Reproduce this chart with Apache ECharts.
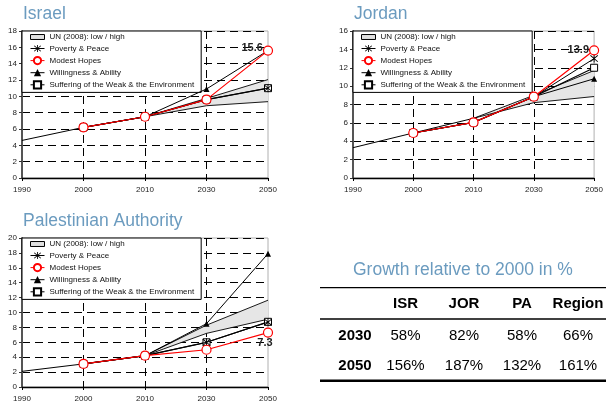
<!DOCTYPE html>
<html>
<head>
<meta charset="utf-8">
<script src="https://cdn.jsdelivr.net/npm/echarts@6/dist/echarts.min.js"></script>
<style>
html,body{margin:0;padding:0;background:#fff;}
#main{width:606px;height:403px;}
</style>
</head>
<body>
<div id="main"></div>
<script>
// ---------- data ----------
const years = ['1990', '2000', '2010', '2030', '2050'];
const legendNames = ['UN (2008): low / high', 'Poverty & Peace', 'Modest Hopes', 'Willingness & Ability', 'Suffering of the Weak & the Environment'];

// Israel
const isrHistory = [4.6, 6.2, 7.5, null, null];
const isrUnLow = [null, null, 7.5, 8.85, 9.35];
const isrUnHigh = [null, null, 7.5, 9.75, 12.05];
const isrPovertyPeace = [null, 6.2, 7.5, 9.6, 11.0];
const isrModestHopes = [null, 6.2, 7.5, 9.6, 15.6];
const isrWillingness = [null, 6.2, 7.5, 10.9, 15.6];
const isrSuffering = [null, 6.2, 7.5, 9.6, 11.0];

// Jordan
const jorHistory = [3.3, 4.9, 6.5, null, null];
const jorUnLow = [null, null, 6.5, 8.2, 8.87];
const jorUnHigh = [null, null, 6.5, 9.0, 11.7];
const jorPovertyPeace = [null, 4.9, 6.05, 8.85, 13.0];
const jorModestHopes = [null, 4.9, 6.05, 8.85, 13.9];
const jorWillingness = [null, 4.9, 6.05, 8.85, 10.8];
const jorSuffering = [null, 4.9, 6.05, 8.85, 12.0];

// Palestinian Authority
const paHistory = [2.1, 3.1, 4.2, null, null];
const paUnLow = [null, null, 4.2, 7.2, 9.1];
const paUnHigh = [null, null, 4.2, 8.3, 11.65];
const paPovertyPeace = [null, 3.1, 4.2, 6.0, 8.7];
const paModestHopes = [null, 3.1, 4.2, 5.0, 7.3];
const paWillingness = [null, 3.1, 4.2, 8.5, 17.9];
const paSuffering = [null, 3.1, 4.2, 6.0, 8.75];

// Table
const tableTitle = 'Growth relative to 2000 in %';
const tableColumns = ['ISR', 'JOR', 'PA', 'Region'];
const tableRowLabels = ['2030', '2050'];
const growth2030 = ['58%', '82%', '58%', '66%'];
const growth2050 = ['156%', '187%', '132%', '161%'];

// ---------- styles / layout ----------
const FONT = '"Liberation Sans", Arial, Helvetica, sans-serif';
const TITLE_COLOR = '#6b9bbf';
const STAR = 'path://M9,0 L11,0 L11,20 L9,20 Z M1.4,2.8 L2.8,1.4 L18.6,17.2 L17.2,18.6 Z M17.2,1.4 L18.6,2.8 L2.8,18.6 L1.4,17.2 Z';

const panels = [
  { title: 'Israel', titleLeft: 23, titleTop: 5, grid: { left: 22, top: 31, width: 246, height: 147 }, max: 18,
    hist: isrHistory, low: isrUnLow, high: isrUnHigh, pp: isrPovertyPeace, mh: isrModestHopes, wa: isrWillingness, sw: isrSuffering,
    label: { position: 'left', distance: 0, offset: [0, -3] } },
  { title: 'Jordan', titleLeft: 354, titleTop: 5, grid: { left: 353, top: 31, width: 247, height: 147 }, max: 16,
    hist: jorHistory, low: jorUnLow, high: jorUnHigh, pp: jorPovertyPeace, mh: jorModestHopes, wa: jorWillingness, sw: jorSuffering,
    label: { position: 'left', distance: 0, offset: [0, 0] } },
  { title: 'Palestinian Authority', titleLeft: 23, titleTop: 212, grid: { left: 22, top: 238, width: 246, height: 149 }, max: 20,
    hist: paHistory, low: paUnLow, high: paUnHigh, pp: paPovertyPeace, mh: paModestHopes, wa: paWillingness, sw: paSuffering,
    label: { position: 'bottom', distance: 0, offset: [-3, 0] } }
];

const option = {
  animation: false,
  textStyle: { fontFamily: FONT },
  title: [], grid: [], xAxis: [], yAxis: [], legend: [], series: [], graphic: []
};

panels.forEach((p, gi) => {
  option.title.push({
    text: p.title, left: p.titleLeft, top: p.titleTop, padding: 0,
    textStyle: { color: TITLE_COLOR, fontSize: 17.5, fontWeight: 'normal', fontFamily: FONT }
  });
  option.grid.push(Object.assign({ show: true, borderColor: '#b0b0b0', borderWidth: 1, backgroundColor: 'transparent' }, p.grid));
  option.xAxis.push({
    type: 'category', gridIndex: gi, data: years, boundaryGap: false,
    axisLine: { lineStyle: { color: '#000', width: 1.3 } },
    axisTick: { show: true, length: 3, lineStyle: { color: '#000' } },
    axisLabel: { fontSize: 8, color: '#222', margin: 8, fontFamily: FONT },
    splitLine: { show: true, interval: (i) => i > 0 && i < years.length - 1, lineStyle: { color: '#000', type: [8, 5], width: 1 } }
  });
  option.yAxis.push({
    type: 'value', gridIndex: gi, min: 0, max: p.max, interval: 2,
    axisLine: { show: true, lineStyle: { color: '#555', width: 2 } },
    axisTick: { show: true, length: 3, lineStyle: { color: '#333' } },
    axisLabel: { fontSize: 8, color: '#222', margin: 5, fontFamily: FONT },
    splitLine: { show: true, lineStyle: { color: '#000', type: [8, 5], width: 1 } }
  });
  option.legend.push({
    left: p.grid.left, top: p.grid.top, orient: 'vertical',
    backgroundColor: '#fff', borderColor: '#000', borderWidth: 1,
    padding: [2, 7, 3, 8], itemGap: 3.5, itemWidth: 14, itemHeight: 9,
    selectedMode: false,
    lineStyle: { width: 1 },
    textStyle: { fontSize: 8, color: '#111', fontFamily: FONT },
    data: [
      { name: legendNames[0], icon: 'path://M0,0 L17,0 L17,6 L0,6 Z', itemStyle: { color: '#e0e0e0', borderColor: '#000', borderWidth: 1 } },
      legendNames[1], legendNames[2], legendNames[3], legendNames[4]
    ]
  });

  const base = { type: 'line', xAxisIndex: gi, yAxisIndex: gi, connectNulls: false };
  // history
  option.series.push(Object.assign({}, base, {
    name: 'history', data: p.hist, symbol: 'none', lineStyle: { color: '#000', width: 1 }, z: 3
  }));
  // UN band: low line then stacked difference
  option.series.push(Object.assign({}, base, {
    name: 'UN low', data: p.low, stack: 'un' + gi, symbol: 'none', lineStyle: { color: '#000', width: 0.9 }, z: 2
  }));
  option.series.push(Object.assign({}, base, {
    name: legendNames[0], data: p.high.map((v, i) => v == null ? null : +(v - p.low[i]).toFixed(3)),
    stack: 'un' + gi, symbol: 'none', color: '#e6e6e6',
    lineStyle: { color: '#000', width: 0.9 }, areaStyle: { color: '#e6e6e6', opacity: 1 }, z: 2
  }));
  // scenarios
  option.series.push(Object.assign({}, base, {
    name: legendNames[3], data: p.wa, symbol: 'triangle', symbolSize: 6, color: '#000',
    itemStyle: { color: '#000' }, lineStyle: { color: '#000', width: 1 }, z: 4
  }));
  option.series.push(Object.assign({}, base, {
    name: legendNames[4], data: p.sw, symbol: 'rect', symbolSize: 7, color: '#000',
    itemStyle: { color: '#fff', borderColor: '#000', borderWidth: 1 }, lineStyle: { color: '#000', width: 1.2 }, z: 5
  }));
  option.series.push(Object.assign({}, base, {
    name: legendNames[1], data: p.pp, symbol: STAR, symbolSize: 8, color: '#000',
    itemStyle: { color: '#000' }, lineStyle: { color: '#000', width: 1 }, z: 6
  }));
  const last = p.mh.length - 1;
  option.series.push(Object.assign({}, base, {
    name: legendNames[2], symbol: 'circle', symbolSize: 9, color: '#ff0000',
    itemStyle: { color: '#fff', borderColor: '#ff0000', borderWidth: 1.2 }, lineStyle: { color: '#ff0000', width: 1.2 }, z: 7,
    data: p.mh.map((v, i) => i === last ? {
      value: v,
      label: Object.assign({ show: true, formatter: (d) => String(d.value), fontSize: 11, fontWeight: 'bold', color: '#222', fontFamily: FONT }, p.label)
    } : v)
  }));
});

// ---------- table ----------
const colX = [405.5, 464, 522, 578];
const rowLabelX = 355;
const g = option.graphic;
g.push({ type: 'text', left: 463 - 110, top: 261, style: { text: tableTitle, fill: TITLE_COLOR, font: '17.5px ' + FONT } });
g.push({ type: 'line', shape: { x1: 320, y1: 287.7, x2: 606, y2: 287.7 }, style: { stroke: '#000', lineWidth: 1.3 } });
g.push({ type: 'line', shape: { x1: 320, y1: 319, x2: 606, y2: 319 }, style: { stroke: '#000', lineWidth: 1.3 } });
g.push({ type: 'line', shape: { x1: 320, y1: 380.7, x2: 606, y2: 380.7 }, style: { stroke: '#000', lineWidth: 2.6 } });
tableColumns.forEach((c, i) => {
  g.push({ type: 'text', x: colX[i], y: 303.5, style: { text: c, fill: '#000', font: 'bold 15px ' + FONT, textAlign: 'center', textVerticalAlign: 'middle' } });
});
const rows = [growth2030, growth2050];
const rowY = [336, 366];
tableRowLabels.forEach((r, ri) => {
  g.push({ type: 'text', x: rowLabelX, y: rowY[ri], style: { text: r, fill: '#000', font: 'bold 15px ' + FONT, textAlign: 'center', textVerticalAlign: 'middle' } });
  rows[ri].forEach((v, i) => {
    g.push({ type: 'text', x: colX[i], y: rowY[ri], style: { text: v, fill: '#000', font: '15px ' + FONT, textAlign: 'center', textVerticalAlign: 'middle' } });
  });
});

const chart = echarts.init(document.getElementById('main'), null, { renderer: 'canvas' });
chart.setOption(option);
</script>
</body>
</html>
